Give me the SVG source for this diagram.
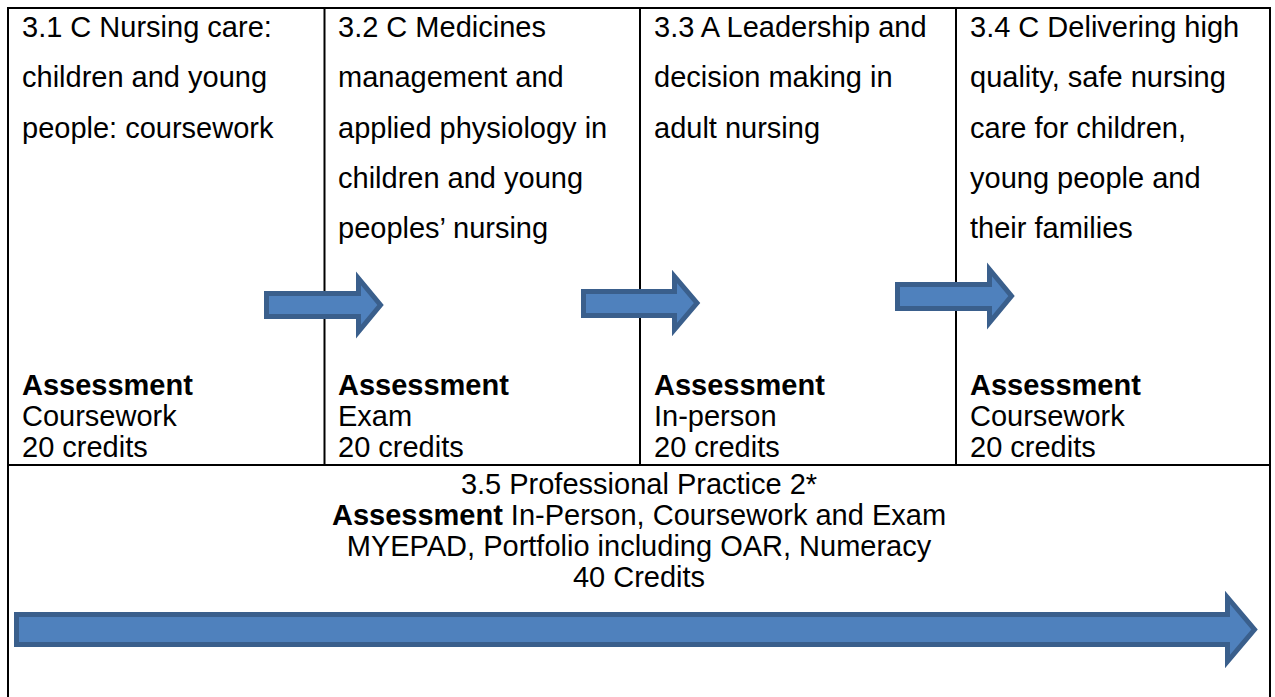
<svg xmlns="http://www.w3.org/2000/svg" width="1275" height="697" viewBox="0 0 1275 697">
<style>
  .t { font-family: "Liberation Sans", Arial, sans-serif; font-size: 29px; fill: #000; }
  .b { font-weight: bold; }
  .c { text-anchor: middle; }
  .grid { stroke: #000; stroke-width: 2; fill: none; }
  .arrow { fill: #4F81BD; stroke: #3A5F8C; stroke-width: 5; stroke-linejoin: miter; }
</style>
<rect x="0" y="0" width="1275" height="697" fill="#fff"/>
<g id="table-grid" class="grid">
  <path d="M8,705 V8 H1270 V705"/>
  <path d="M324.5,8 V465 M640,8 V465 M956,8 V465"/>
  <path d="M8,465 H1270"/>
</g>
<g id="node-3-1">
  <text class="t"><tspan x="22" y="37">3.1 C Nursing care:</tspan><tspan x="22" y="87">children and young</tspan><tspan x="22" y="137.5">people: coursework</tspan></text>
  <text class="t"><tspan x="22" y="395" class="b">Assessment</tspan><tspan x="22" y="426">Coursework</tspan><tspan x="22" y="457">20 credits</tspan></text>
</g>
<g id="node-3-2">
  <text class="t"><tspan x="338" y="37">3.2 C Medicines</tspan><tspan x="338" y="87">management and</tspan><tspan x="338" y="137.5">applied physiology in</tspan><tspan x="338" y="188">children and young</tspan><tspan x="338" y="238">peoples’ nursing</tspan></text>
  <text class="t"><tspan x="338" y="395" class="b">Assessment</tspan><tspan x="338" y="426">Exam</tspan><tspan x="338" y="457">20 credits</tspan></text>
</g>
<g id="node-3-3">
  <text class="t"><tspan x="654" y="37">3.3 A Leadership and</tspan><tspan x="654" y="87">decision making in</tspan><tspan x="654" y="137.5">adult nursing</tspan></text>
  <text class="t"><tspan x="654" y="395" class="b">Assessment</tspan><tspan x="654" y="426">In-person</tspan><tspan x="654" y="457">20 credits</tspan></text>
</g>
<g id="node-3-4">
  <text class="t"><tspan x="970" y="37">3.4 C Delivering high</tspan><tspan x="970" y="87">quality, safe nursing</tspan><tspan x="970" y="137.5">care for children,</tspan><tspan x="970" y="188">young people and</tspan><tspan x="970" y="238">their families</tspan></text>
  <text class="t"><tspan x="970" y="395" class="b">Assessment</tspan><tspan x="970" y="426">Coursework</tspan><tspan x="970" y="457">20 credits</tspan></text>
</g>
<g id="node-3-5">
  <text class="t c" x="639" y="494">3.5 Professional Practice 2*</text>
  <text class="t c" x="639" y="525"><tspan class="b">Assessment</tspan> In-Person, Coursework and Exam</text>
  <text class="t c" x="639" y="556">MYEPAD, Portfolio including OAR, Numeracy</text>
  <text class="t c" x="639" y="587">40 Credits</text>
</g>
<g id="connectors">
  <path class="arrow" d="M266.5,293.5 H358.5 V278.5 L380.5,305 L358.5,331.5 V316.5 H266.5 Z"/>
  <path class="arrow" d="M583.5,291.5 H674.5 V276.5 L697,303 L674.5,329.5 V315.5 H583.5 Z"/>
  <path class="arrow" d="M897.5,284.5 H989.5 V269.5 L1011.5,296 L989.5,322.5 V308.5 H897.5 Z"/>
  <path class="arrow" d="M16.5,614.5 H1227.5 V597.5 L1254.5,629.5 L1227.5,661.5 V644.5 H16.5 Z"/>
</g>
</svg>
